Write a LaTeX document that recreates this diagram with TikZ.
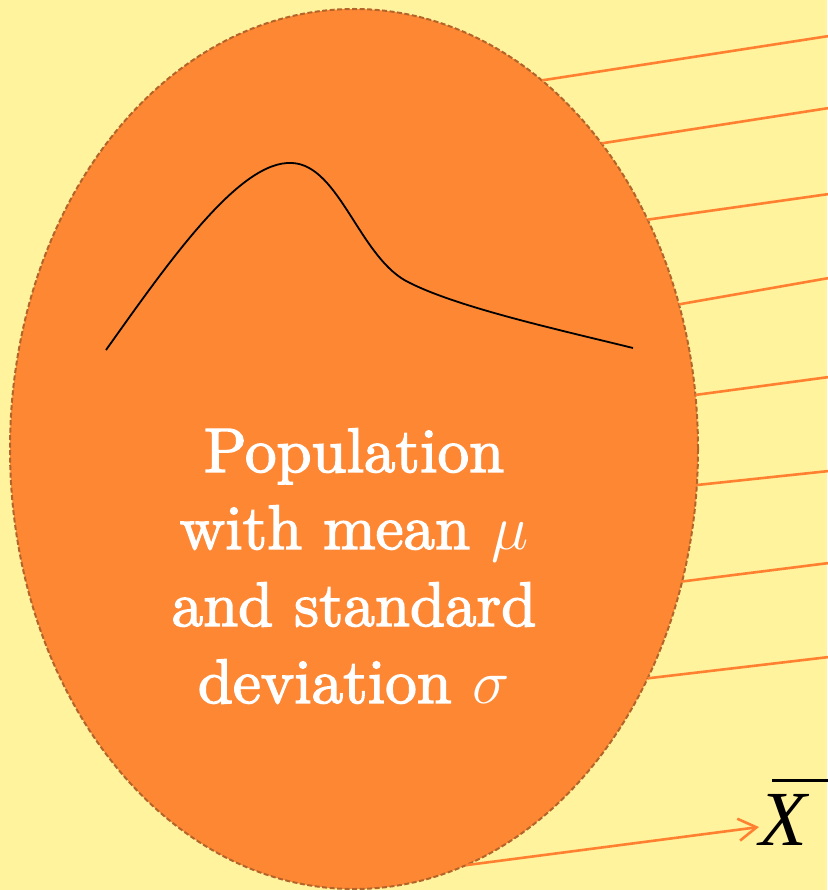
\RequirePackage{fix-cm}
\documentclass[tikz,border=0pt]{standalone}
\usepackage{fontspec}
\setmainfont{lmroman10-regular.otf}[ItalicFont=lmroman10-italic.otf, BoldFont=lmroman10-bold.otf]
\newfontfamily\popfont{lmroman10-regular.otf}[FakeBold=2.2]
\newfontfamily\timesfont{Liberation Serif}
\usetikzlibrary{shapes.geometric,arrows.meta}
\definecolor{bgyellow}{RGB}{255,243,157}
\definecolor{popfill}{RGB}{254,135,52}
\definecolor{popedge}{RGB}{178,100,42}
\definecolor{rayline}{RGB}{255,128,48}
\tikzset{
  ray/.style={draw=rayline, line width=2.6pt},
  poptext/.style={text=white, font=\popfont\fontsize{63}{77}\selectfont, align=center, inner sep=0pt}
}
\begin{document}
\begin{tikzpicture}[x=1pt,y=-1pt]
\fill[bgyellow] (0,0) rectangle (827,890);
\useasboundingbox (0,0) rectangle (827,890);
\node[ellipse, minimum width=688pt, minimum height=880pt, inner sep=0pt, outer sep=0pt,
      fill=popfill, draw=popedge, line width=2pt, dash pattern=on 5pt off 2.5pt] (pop) at (354,449) {};
% distribution curve
\draw[black, line width=1.8pt] (106,350) .. controls (170,260) and (240,160) .. (292,163)
  .. controls (340,165) and (360,260) .. (410,283)
  .. controls (460,308) and (560,330) .. (633,348);
% text
\node[poptext, anchor=base] (lbl) at (354,703) {Population\\with mean $\mu$\\and standard\\deviation $\sigma$};
% rays
\coordinate (e1) at (829,36);
\coordinate (e2) at (829,108);
\coordinate (e3) at (829,194);
\coordinate (e4) at (829,278);
\coordinate (e5) at (829,377);
\coordinate (e6) at (829,471);
\coordinate (e7) at (829,563);
\coordinate (e8) at (829,657);
\draw[ray] (pop.63.9) -- (e1);
\draw[ray] (pop.51.4) -- (e2);
\draw[ray] (pop.38.0) -- (e3);
\draw[ray] (pop.24.7) -- (e4);
\draw[ray] (pop.9.1) -- (e5);
\draw[ray] (pop.-6.5) -- (e6);
\draw[ray] (pop.-22.0) -- (e7);
\draw[ray] (pop.-38.3) -- (e8);
% sample mean
\node[anchor=base west, inner sep=0pt, font=\timesfont\itshape\fontsize{78}{80}\selectfont] (xbar) at (759,845) {X};
\coordinate (ob) at (829,780);
\draw[black, line width=3pt] (xbar.west |- ob) ++(13,0) -- (ob);
\draw[ray, -{Straight Barb[length=18pt,width=22pt,line width=2.6pt]}] (pop.-75.6) -- (xbar.west |- 0,827);
\end{tikzpicture}
\end{document}
